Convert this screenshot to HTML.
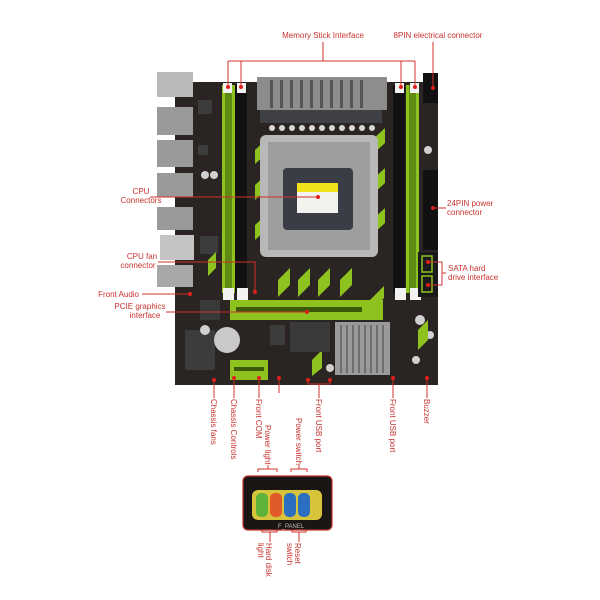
<!DOCTYPE html>
<html><head><meta charset="utf-8"><style>
html,body{margin:0;padding:0;background:#fff;}
svg{display:block;}
text{font-family:"Liberation Sans",sans-serif;font-size:8px;fill:#c8322f;}
</style></head><body>
<svg width="600" height="600" viewBox="0 0 600 600">
<!-- board -->
<rect x="175" y="82" width="263" height="303" fill="#2a2522"/>
<!-- IO shields -->
<rect x="157" y="72" width="36" height="25" fill="#b9b9b9"/>
<rect x="157" y="107" width="36" height="28" fill="#9a9a9a"/>
<rect x="157" y="140" width="36" height="27" fill="#9a9a9a"/>
<rect x="157" y="173" width="36" height="24" fill="#9a9a9a"/>
<rect x="157" y="207" width="36" height="23" fill="#9a9a9a"/>
<rect x="160" y="235" width="34" height="25" fill="#c4c4c4"/>
<rect x="157" y="265" width="36" height="22" fill="#a8a8a8"/>
<g fill="#3c3c3c">
<rect x="198" y="100" width="14" height="14"/><rect x="198" y="145" width="10" height="10"/><rect x="200" y="236" width="18" height="18"/>
<rect x="185" y="330" width="30" height="40"/><rect x="270" y="325" width="15" height="20"/>
</g>
<g fill="#d0d0d0">
<circle cx="205" cy="175" r="4"/><circle cx="214" cy="175" r="4"/><circle cx="205" cy="330" r="5"/><circle cx="420" cy="320" r="5"/>
<circle cx="430" cy="335" r="4"/><circle cx="428" cy="150" r="4"/><circle cx="416" cy="360" r="4"/><circle cx="330" cy="368" r="4"/>
</g>
<!-- RAM slots -->
<rect x="222" y="85" width="13" height="208" fill="#8dc21f"/>
<rect x="235" y="85" width="12" height="208" fill="#111"/>
<rect x="393" y="85" width="12" height="208" fill="#111"/>
<rect x="406" y="85" width="13" height="208" fill="#8dc21f"/>
<rect x="225" y="85" width="7" height="208" fill="#5e8a14"/>
<rect x="409" y="85" width="7" height="208" fill="#5e8a14"/>
<g fill="#f2f2f2">
<rect x="223" y="83" width="9" height="10"/><rect x="237" y="83" width="9" height="10"/>
<rect x="395" y="83" width="9" height="10"/><rect x="410" y="83" width="9" height="10"/>
<rect x="223" y="288" width="11" height="12"/><rect x="237" y="288" width="11" height="12"/>
<rect x="395" y="288" width="11" height="12"/><rect x="410" y="288" width="11" height="12"/>
</g>
<!-- VRM heatsink -->
<rect x="257" y="77" width="130" height="33" fill="#8d8d8d"/>
<g fill="#555"><rect x="270" y="80" width="3" height="28"/><rect x="280" y="80" width="3" height="28"/><rect x="290" y="80" width="3" height="28"/><rect x="300" y="80" width="3" height="28"/><rect x="310" y="80" width="3" height="28"/><rect x="320" y="80" width="3" height="28"/><rect x="330" y="80" width="3" height="28"/><rect x="340" y="80" width="3" height="28"/><rect x="350" y="80" width="3" height="28"/><rect x="360" y="80" width="3" height="28"/></g>
<rect x="260" y="110" width="122" height="13" fill="#3f3f46"/>
<g fill="#d8d8d8"><circle cx="272" cy="128" r="3"/><circle cx="282" cy="128" r="3"/><circle cx="292" cy="128" r="3"/><circle cx="302" cy="128" r="3"/><circle cx="312" cy="128" r="3"/><circle cx="322" cy="128" r="3"/><circle cx="332" cy="128" r="3"/><circle cx="342" cy="128" r="3"/><circle cx="352" cy="128" r="3"/><circle cx="362" cy="128" r="3"/><circle cx="372" cy="128" r="3"/></g>
<!-- green stripes around socket -->
<g fill="#8dc21f">
<polygon points="255,150 268,138 268,152 255,164"/><polygon points="255,185 268,173 268,188 255,200"/>
<polygon points="255,225 268,213 268,228 255,240"/><polygon points="372,140 385,128 385,143 372,155"/>
<polygon points="372,180 385,168 385,183 372,195"/><polygon points="372,220 385,208 385,223 372,235"/>
<polygon points="278,280 290,268 290,285 278,297"/><polygon points="298,280 310,268 310,285 298,297"/>
<polygon points="318,280 330,268 330,285 318,297"/><polygon points="340,280 352,268 352,285 340,297"/>
<polygon points="370,300 384,286 384,298 370,312"/><polygon points="418,330 428,320 428,340 418,350"/>
<polygon points="208,260 216,252 216,268 208,276"/><polygon points="312,360 322,350 322,368 312,376"/>
</g>
<!-- CPU socket -->
<rect x="260" y="135" width="118" height="122" rx="6" fill="#b8b8b8"/>
<rect x="268" y="142" width="102" height="108" fill="#9e9e9e"/>
<rect x="283" y="168" width="70" height="62" rx="4" fill="#3a3d45"/>
<rect x="297" y="183" width="41" height="30" fill="#f2f2ee"/>
<rect x="297" y="183" width="41" height="9" fill="#f2e21a"/>
<!-- 8pin / 24pin / SATA -->
<rect x="423" y="73" width="15" height="30" fill="#111"/>
<rect x="423" y="170" width="15" height="80" fill="#111"/>
<rect x="418" y="252" width="20" height="45" fill="#1a1a1a"/>
<rect x="422" y="256" width="10" height="16" fill="none" stroke="#8dc21f" stroke-width="1.5"/>
<rect x="422" y="276" width="10" height="16" fill="none" stroke="#8dc21f" stroke-width="1.5"/>
<!-- PCIe x16 -->
<rect x="230" y="300" width="153" height="20" fill="#8dc21f"/>
<rect x="236" y="307" width="126" height="5" fill="#3d5a0a"/>
<!-- chipset -->
<rect x="335" y="322" width="55" height="53" fill="#9a9a9a"/>
<g fill="#6f6f6f"><rect x="340" y="325" width="2" height="48"/><rect x="346" y="325" width="2" height="48"/><rect x="352" y="325" width="2" height="48"/><rect x="358" y="325" width="2" height="48"/><rect x="364" y="325" width="2" height="48"/><rect x="370" y="325" width="2" height="48"/><rect x="376" y="325" width="2" height="48"/><rect x="382" y="325" width="2" height="48"/></g>
<!-- misc chips -->
<rect x="290" y="322" width="40" height="30" fill="#3a3a3a"/>
<rect x="200" y="300" width="20" height="20" fill="#3a3a3a"/>
<circle cx="227" cy="340" r="13" fill="#c9c9c9"/>
<rect x="230" y="360" width="38" height="20" fill="#8dc21f"/>
<rect x="234" y="367" width="30" height="4" fill="#3d5a0a"/>
<!-- annotation lines -->
<g stroke="#d0302c" stroke-width="1" fill="none">
<line x1="323" y1="42" x2="323" y2="61"/>
<line x1="228" y1="61" x2="415" y2="61"/>
<line x1="228" y1="61" x2="228" y2="86"/><line x1="241" y1="61" x2="241" y2="86"/>
<line x1="401" y1="61" x2="401" y2="86"/><line x1="415" y1="61" x2="415" y2="86"/>
<line x1="433" y1="42" x2="433" y2="88"/>
<line x1="150" y1="197" x2="318" y2="197"/>
<polyline points="158,262 255,262 255,292"/>
<line x1="142" y1="294" x2="190" y2="294"/>
<line x1="166" y1="312" x2="307" y2="312"/>
<line x1="433" y1="208" x2="446" y2="208"/>
<polyline points="428,262 442,262 442,285 428,285"/>
<line x1="442" y1="273" x2="446" y2="273"/>
<line x1="214" y1="380" x2="214" y2="398"/><line x1="234" y1="378" x2="234" y2="398"/>
<line x1="259" y1="378" x2="259" y2="398"/><line x1="279" y1="378" x2="279" y2="393"/>
<polyline points="308,380 308,384 330,384 330,380"/><line x1="319" y1="384" x2="319" y2="398"/>
<line x1="393" y1="378" x2="393" y2="398"/><line x1="427" y1="378" x2="427" y2="398"/>
<polyline points="258,472 258,469 277,469 277,472"/><line x1="268" y1="469" x2="268" y2="465"/>
<polyline points="291,472 291,469 307,469 307,472"/><line x1="299" y1="469" x2="299" y2="465"/>
<polyline points="262,528 262,532 277,532 277,528"/><line x1="270" y1="532" x2="270" y2="542"/>
<polyline points="292,528 292,532 306,532 306,528"/><line x1="299" y1="532" x2="299" y2="542"/>
</g>
<g fill="#e0201c">
<circle cx="228" cy="87" r="2"/><circle cx="241" cy="87" r="2"/><circle cx="401" cy="87" r="2"/><circle cx="415" cy="87" r="2"/><circle cx="433" cy="88" r="2"/>
<circle cx="318" cy="197" r="2"/><circle cx="255" cy="292" r="2"/><circle cx="190" cy="294" r="2"/><circle cx="307" cy="312" r="2"/>
<circle cx="433" cy="208" r="2"/><circle cx="428" cy="262" r="2"/><circle cx="428" cy="285" r="2"/>
<circle cx="214" cy="380" r="2"/><circle cx="234" cy="378" r="2"/><circle cx="259" cy="378" r="2"/><circle cx="279" cy="378" r="2"/>
<circle cx="308" cy="380" r="2"/><circle cx="330" cy="380" r="2"/><circle cx="393" cy="378" r="2"/><circle cx="427" cy="378" r="2"/>
</g>
<!-- labels -->
<text x="323" y="38" text-anchor="middle">Memory Stick Interface</text>
<text x="438" y="38" text-anchor="middle">8PIN electrical connector</text>
<text x="141" y="194" text-anchor="middle">CPU</text>
<text x="141" y="203" text-anchor="middle">Connectors</text>
<text x="142" y="259" text-anchor="middle">CPU fan</text>
<text x="138" y="268" text-anchor="middle">connector</text>
<text x="139" y="297" text-anchor="end">Front Audio</text>
<text x="140" y="309" text-anchor="middle">PCIE graphics</text>
<text x="145" y="318" text-anchor="middle">interface</text>
<text x="447" y="206">24PIN power</text>
<text x="447" y="215">connector</text>
<text x="448" y="271">SATA hard</text>
<text x="448" y="280">drive interface</text>
<g>
<text transform="translate(211,399) rotate(90)">Chassis fans</text>
<text transform="translate(231,399) rotate(90)">Chassis Controls</text>
<text transform="translate(256,399) rotate(90)">Front COM</text>
<text transform="translate(316,399) rotate(90)">Front USB port</text>
<text transform="translate(390,399) rotate(90)">Front USB port</text>
<text transform="translate(424,399) rotate(90)">Buzzer</text>
<text transform="translate(265,425) rotate(90)">Power light</text>
<text transform="translate(296,418) rotate(90)">Power switch</text>
<text transform="translate(266,543) rotate(90)">Hard disk</text>
<text transform="translate(258,543) rotate(90)">light</text>
<text transform="translate(295,543) rotate(90)">Reset</text>
<text transform="translate(287,543) rotate(90)">switch</text>
</g>
<!-- front panel inset -->
<rect x="243" y="476" width="89" height="54" rx="5" fill="#1a1614" stroke="#c0302c" stroke-width="1.2"/>
<rect x="252" y="490" width="70" height="30" rx="6" fill="#d8c43a"/>
<rect x="256" y="493" width="12" height="24" rx="5" fill="#5fb33a"/>
<rect x="270" y="493" width="12" height="24" rx="5" fill="#e05a2a"/>
<rect x="284" y="493" width="12" height="24" rx="5" fill="#2d6fbf"/>
<rect x="298" y="493" width="12" height="24" rx="5" fill="#2d6fbf"/>
<text x="278" y="528" style="fill:#bbb;font-size:6px">F_PANEL</text>
</svg>
</body></html>
